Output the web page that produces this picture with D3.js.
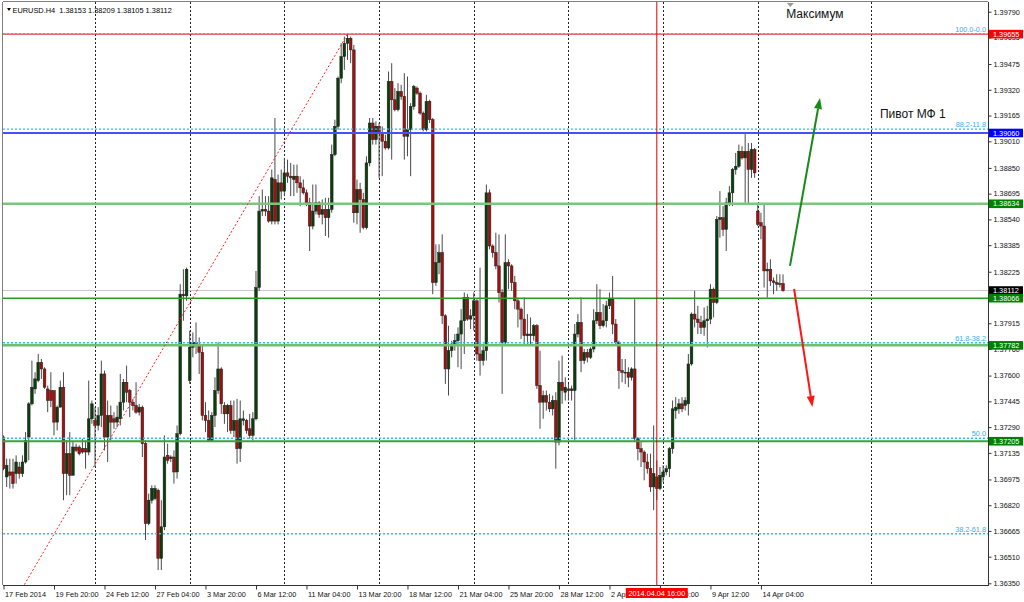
<!DOCTYPE html>
<html><head><meta charset="utf-8">
<script src="https://cdn.jsdelivr.net/npm/d3@7"></script>
<style>body{margin:0;background:#fff}svg{display:block}text{font-family:"Liberation Sans",Arial,sans-serif}</style>
</head><body><svg id="c" width="1024" height="602"></svg>
<script>
// ---------- data ----------
const symbol = "EURUSD.H4";
const firstBar = 1; // bar index of first candle (17 Feb 2014 04:00)
const open = [
1.3723,1.3699,1.3702,1.3702,1.3701,1.3705,1.3701,1.3708,1.3723,1.3743,
1.3752,1.3757,1.3768,1.3764,1.3752,1.3751,1.3751,1.3732,1.3741,1.3753,
1.3701,1.3713,1.3700,1.3717,1.3717,1.3716,1.3716,1.3714,1.3734,1.3733,
1.3730,1.3736,1.3761,1.3723,1.3736,1.3734,1.3732,1.3734,1.3744,1.3756,
1.3751,1.3744,1.3742,1.3738,1.3741,1.3719,1.3671,1.3685,1.3686,1.3691,
1.3650,1.3669,1.3712,1.3710,1.3711,1.3702,1.3725,1.3809,1.3808,1.3757,
1.3777,1.3780,1.3778,1.3774,1.3736,1.3733,1.3721,1.3736,1.3751,1.3764,
1.3742,1.3737,1.3742,1.3727,1.3733,1.3716,1.3733,1.3733,1.3728,1.3724,
1.3734,1.3813,1.3859,1.3860,1.3859,1.3853,1.3878,1.3853,1.3876,1.3871,
1.3882,1.3880,1.3878,1.3880,1.3876,1.3873,1.3870,1.3864,1.3850,1.3859,
1.3864,1.3857,1.3860,1.3855,1.3860,1.3893,1.3910,1.3939,1.3952,1.3960,
1.3963,1.3956,1.3858,1.3872,1.3866,1.3849,1.3888,1.3912,1.3902,1.3910,
1.3906,1.3901,1.3897,1.3937,1.3926,1.3920,1.3931,1.3928,1.3904,1.3908,
1.3922,1.3933,1.3930,1.3918,1.3908,1.3925,1.3914,1.3816,1.3828,1.3834,
1.3796,1.3764,1.3775,1.3778,1.3781,1.3785,1.3793,1.3807,1.3794,1.3796,
1.3805,1.3773,1.3769,1.3775,1.3870,1.3838,1.3834,1.3826,1.3810,1.3780,
1.3828,1.3826,1.3816,1.3805,1.3800,1.3794,1.3784,1.3785,1.3784,1.3790,
1.3754,1.3744,1.3748,1.3744,1.3740,1.3745,1.3720,1.3756,1.3750,1.3752,
1.3751,1.3751,1.3785,1.3792,1.3769,1.3774,1.3771,1.3776,1.3793,1.3798,
1.3790,1.3793,1.3802,1.3806,1.3791,1.3780,1.3763,1.3762,1.3762,1.3759,
1.3764,1.3722,1.3716,1.3714,1.3708,1.3704,1.3693,1.3699,1.3692,1.3699,
1.3702,1.3704,1.3716,1.3739,1.3740,1.3743,1.3742,1.3743,1.3767,1.3797,
1.3794,1.3792,1.3789,1.3793,1.3794,1.3812,1.3804,1.3854,1.3855,1.3848,
1.3864,1.3870,1.3884,1.3886,1.3895,1.3891,1.3895,1.3884,1.3896,1.3859,
1.3852,1.3850,1.3823,1.3824,1.3817,1.3816,1.3815,1.38153];
const high = [
1.3724,1.3710,1.3710,1.3710,1.3712,1.3708,1.3712,1.3726,1.3744,1.3769,
1.3762,1.3773,1.3770,1.3765,1.3754,1.3762,1.3751,1.3742,1.3757,1.3762,
1.3721,1.3726,1.3720,1.3719,1.3718,1.3722,1.3721,1.3757,1.3745,1.3741,
1.3741,1.3769,1.3763,1.3745,1.3742,1.3738,1.3742,1.3761,1.3758,1.3766,
1.3752,1.3746,1.3756,1.3743,1.3742,1.3721,1.3689,1.3694,1.3694,1.3692,
1.3685,1.3724,1.3719,1.3712,1.3715,1.3730,1.3815,1.3824,1.3825,1.3787,
1.3786,1.3792,1.3783,1.3778,1.3744,1.3739,1.3738,1.3759,1.3780,1.3765,
1.3744,1.3743,1.3745,1.3745,1.3746,1.3745,1.3739,1.3734,1.3737,1.3738,
1.3823,1.3868,1.3872,1.3868,1.3868,1.3884,1.3915,1.3881,1.3884,1.3891,
1.3890,1.3888,1.3887,1.3887,1.3880,1.3878,1.3872,1.3867,1.3875,1.3875,
1.3865,1.3866,1.3867,1.3867,1.3899,1.3914,1.3940,1.3960,1.3964,1.39655,
1.3964,1.3959,1.3878,1.3876,1.3870,1.3892,1.3915,1.3915,1.3913,1.3912,
1.3910,1.3905,1.3943,1.3948,1.3933,1.3936,1.3935,1.3942,1.3940,1.3924,
1.3935,1.3934,1.3931,1.3919,1.3929,1.3926,1.3915,1.3839,1.3839,1.3845,
1.3797,1.3790,1.3781,1.3785,1.3789,1.3800,1.3810,1.3809,1.3800,1.3810,
1.3806,1.3825,1.3778,1.3875,1.3872,1.3839,1.3846,1.3845,1.3812,1.3845,
1.3830,1.3827,1.3820,1.3807,1.3801,1.3807,1.3797,1.3795,1.3791,1.3791,
1.3775,1.3751,1.3751,1.3749,1.3748,1.3750,1.3769,1.3772,1.3759,1.3755,
1.3754,1.3791,1.3797,1.3807,1.3776,1.3776,1.3777,1.3800,1.3815,1.3812,
1.3803,1.3805,1.3810,1.3820,1.3794,1.3781,1.3770,1.3770,1.3765,1.3765,
1.3806,1.3723,1.3720,1.3715,1.3713,1.3713,1.3730,1.3709,1.3705,1.3706,
1.3706,1.3717,1.3745,1.3747,1.3746,1.3747,1.3747,1.3773,1.3798,1.3811,
1.3802,1.3796,1.3801,1.3802,1.3815,1.3813,1.3856,1.3871,1.3862,1.3867,
1.3874,1.3885,1.3894,1.3899,1.3898,1.3906,1.3900,1.3900,1.3897,1.3863,
1.3858,1.3863,1.3828,1.3830,1.3819,1.3821,1.38210,1.38209];
const low = [
1.3703,1.3693,1.3692,1.3692,1.3695,1.3698,1.3699,1.3707,1.3709,1.3742,
1.3749,1.3756,1.3758,1.3752,1.3738,1.3741,1.3724,1.3727,1.3741,1.3685,
1.3688,1.3688,1.3700,1.3714,1.3712,1.3713,1.3704,1.3712,1.3731,1.3705,
1.3727,1.3729,1.3715,1.3708,1.3721,1.3728,1.3729,1.3730,1.3739,1.3744,
1.3735,1.3739,1.3737,1.3736,1.3711,1.3661,1.3670,1.3683,1.3685,1.3643,
1.3643,1.3667,1.3707,1.3708,1.3695,1.3698,1.3724,1.3793,1.3805,1.3755,
1.3771,1.3773,1.3761,1.3733,1.3726,1.3720,1.3720,1.3729,1.3749,1.3737,
1.3731,1.3726,1.3725,1.3723,1.3707,1.3708,1.3730,1.3725,1.3722,1.3721,
1.3733,1.3811,1.3856,1.3856,1.3852,1.3851,1.3851,1.3851,1.3866,1.3868,
1.3876,1.3868,1.3868,1.3870,1.3862,1.3869,1.3862,1.3835,1.3848,1.3857,
1.3855,1.3851,1.3844,1.3843,1.3858,1.3892,1.3908,1.3936,1.3944,1.3950,
1.3948,1.3852,1.3851,1.3846,1.3848,1.3848,1.3886,1.3899,1.3899,1.3879,
1.3880,1.3896,1.3896,1.3890,1.3919,1.3919,1.3926,1.3890,1.3892,1.3880,
1.3920,1.3929,1.3917,1.3907,1.3907,1.3912,1.3809,1.3814,1.3821,1.3791,
1.3755,1.3748,1.3771,1.3775,1.3765,1.3764,1.3773,1.3793,1.3788,1.3787,
1.3769,1.3760,1.3766,1.3769,1.3836,1.3831,1.3824,1.3804,1.3749,1.3778,
1.3812,1.3811,1.3800,1.3789,1.3782,1.3778,1.3779,1.3778,1.3781,1.3752,
1.3728,1.3734,1.3739,1.3738,1.3736,1.3704,1.3718,1.3743,1.3745,1.3745,
1.3745,1.3721,1.3783,1.3762,1.3767,1.3768,1.3770,1.3774,1.3791,1.3788,
1.3789,1.3789,1.3800,1.3785,1.3779,1.3752,1.3756,1.3755,1.3753,1.3757,
1.3720,1.3709,1.3705,1.3697,1.3701,1.3690,1.3679,1.3685,1.3691,1.3696,
1.3700,1.3699,1.3713,1.3734,1.3737,1.3738,1.3739,1.3736,1.3766,1.3789,
1.3785,1.3785,1.3784,1.3777,1.3791,1.3795,1.3803,1.3843,1.3844,1.3835,
1.3862,1.3862,1.3881,1.3885,1.3890,1.3864,1.3863,1.3879,1.3879,1.3850,
1.3842,1.3813,1.3807,1.3814,1.3809,1.3811,1.38130,1.38105];
const close = [
1.3704,1.3706,1.3700,1.3695,1.3708,1.3701,1.3708,1.3721,1.3743,1.3753,
1.3758,1.3768,1.3764,1.3753,1.3745,1.3745,1.3732,1.3741,1.3753,1.3701,
1.3713,1.3700,1.3717,1.3715,1.3713,1.3714,1.3714,1.3734,1.3743,1.3730,
1.3736,1.3761,1.3723,1.3736,1.3732,1.3732,1.3735,1.3744,1.3756,1.3750,
1.3744,1.3742,1.3738,1.3741,1.3719,1.3671,1.3685,1.3692,1.3692,1.3650,
1.3669,1.3711,1.3709,1.3711,1.3702,1.3725,1.3809,1.3808,1.3824,1.3777,
1.3780,1.3778,1.3774,1.3736,1.3733,1.3721,1.3736,1.3751,1.3764,1.3743,
1.3737,1.3742,1.3727,1.3733,1.3716,1.3734,1.3734,1.3727,1.3724,1.3734,
1.3813,1.3859,1.3860,1.3859,1.3853,1.3879,1.3853,1.3876,1.3871,1.3882,
1.3880,1.3879,1.3880,1.3876,1.3873,1.3870,1.3864,1.3850,1.3859,1.3864,
1.3857,1.3860,1.3855,1.3860,1.3893,1.3910,1.3939,1.3952,1.3960,1.3963,
1.3956,1.3858,1.3872,1.3866,1.3849,1.3888,1.3912,1.3902,1.3910,1.3906,
1.3901,1.3897,1.3937,1.3926,1.3920,1.3931,1.3928,1.3904,1.3908,1.3922,
1.3934,1.3930,1.3918,1.3908,1.3925,1.3914,1.3816,1.3828,1.3834,1.3796,
1.3764,1.3775,1.3779,1.3781,1.3785,1.3793,1.3807,1.3794,1.3796,1.3805,
1.3773,1.3769,1.3775,1.3870,1.3838,1.3834,1.3826,1.3810,1.3780,1.3828,
1.3826,1.3816,1.3805,1.3800,1.3794,1.3784,1.3785,1.3784,1.3790,1.3754,
1.3744,1.3748,1.3744,1.3740,1.3745,1.3720,1.3756,1.3751,1.3753,1.3751,
1.3752,1.3785,1.3792,1.3769,1.3774,1.3771,1.3776,1.3793,1.3798,1.3790,
1.3793,1.3802,1.3806,1.3791,1.3780,1.3763,1.3762,1.3762,1.3759,1.3764,
1.3722,1.3716,1.3714,1.3708,1.3704,1.3693,1.3701,1.3692,1.3700,1.3702,
1.3704,1.3716,1.3740,1.3741,1.3743,1.3740,1.3745,1.3767,1.3797,1.3794,
1.3792,1.3789,1.3793,1.3794,1.3812,1.3804,1.3854,1.3855,1.3848,1.3864,
1.3870,1.3884,1.3886,1.3895,1.3891,1.3895,1.3884,1.3896,1.3882,1.3851,
1.3850,1.3823,1.3824,1.3817,1.3816,1.3815,1.38153,1.38112];

const timeTickBars = [1,17,33,49,65,81,97,113,129,145,161,177,193,209,225,241];
const timeTickLabels = ["17 Feb 2014","19 Feb 20:00","24 Feb 12:00","27 Feb 04:00","3 Mar 20:00","6 Mar 12:00",
  "11 Mar 04:00","13 Mar 20:00","18 Mar 12:00","21 Mar 04:00","25 Mar 20:00","28 Mar 12:00",
  "2 Apr 04:00","4 Apr 20:00","9 Apr 12:00","14 Apr 04:00"];
const gridBars = [30,60,90,120,150,180,210,240,276];
const priceTicks = [1.39790,1.39635,1.39475,1.39320,1.39165,1.39010,1.38850,1.38695,1.38540,1.38385,1.38225,
  1.37915,1.37760,1.37600,1.37445,1.37290,1.37135,1.36975,1.36820,1.36665,1.36510,1.36350];

// horizontal levels
const levelPrices = [1.39655,1.39060,1.38634,1.38066,1.37782,1.37205];
const bidPrice = 1.38112;
// fibonacci
const fibLowPrice = 1.34785, fibHighPrice = 1.39655;
const fibLowBar = -40.5, fibHighBar = 110;
const fibRatios = [1.0,0.882,0.618,0.5,0.382];
const fibLabels = ["100.0-0.0","88.2-11.8","61.8-38.2","50.0","38.2-61.8"];
// vertical line
const vLineBar = 208, vLineLabel = "2014.04.04 16:00";
// arrows [bar, price] start -> end
const upArrow = [[250.2,1.38260],[259.7,1.39271]];
const downArrow = [[251.5,1.38121],[257.3,1.37411]];
// text labels
const textLabels = [{t:"Максимум",bar:249,price:1.39752},{t:"Пивот МФ 1",bar:278.7,price:1.39148}];

// ---------- styles ----------
const levelColors = ["#ff0000","#4d4dff","#7dc47d","#2a9a2a","#70be70","#3aa33a"];
const levelWidths = [1,2,2.5,1.5,2.5,1.8];
const boxPrices = [1.39655,1.39060,1.38634,1.38112,1.38066,1.37782,1.37205];
const boxColors = ["#ff0000","#0000ff","#008000","#000000","#008000","#008000","#008000"];

// ---------- scales ----------
const svg = d3.select("#c");
const L = 3, T = 2, R = 988, B = 585;
const x = d3.scaleLinear().domain([0,312]).range([0.35, 0.35+3.156*312]);
const y = d3.scaleLinear().domain([1.36350,1.39790]).range([583.3,11.7]);

const bars = open.map((o,k)=>({i:firstBar+k,o,h:high[k],l:low[k],c:close[k]}));

svg.append("rect").attr("width",1024).attr("height",602).attr("fill","#fff");
svg.append("clipPath").attr("id","plot").append("rect").attr("x",L).attr("y",T).attr("width",R-L).attr("height",B-T);
const g = svg.append("g").attr("clip-path","url(#plot)");

// grid
g.selectAll("line.grid").data(gridBars).join("line")
  .attr("x1",d=>Math.round(x(d))+0.5).attr("x2",d=>Math.round(x(d))+0.5)
  .attr("y1",T).attr("y2",B).attr("stroke","#222").attr("stroke-width",1).attr("stroke-dasharray","2,2");

// bid line
g.append("line").attr("x1",L).attr("x2",R).attr("y1",y(bidPrice)).attr("y2",y(bidPrice))
  .attr("stroke","#c8c8c8").attr("stroke-width",1);

// candles
g.selectAll("line.wick").data(bars).join("line").attr("class","wick")
  .attr("x1",d=>x(d.i)).attr("x2",d=>x(d.i))
  .attr("y1",d=>y(d.h)).attr("y2",d=>y(d.l))
  .attr("stroke","#4a4a4a").attr("stroke-width",1);
g.selectAll("rect.body").data(bars).join("rect").attr("class","body")
  .attr("x",d=>x(d.i)-1.35).attr("width",2.7)
  .attr("y",d=>y(Math.max(d.o,d.c)))
  .attr("height",d=>Math.max(0.8,Math.abs(y(d.o)-y(d.c))))
  .attr("fill",d=>d.c>=d.o?"#0c3d0c":"#a80e0e")
  .attr("stroke","#1e1e1e").attr("stroke-width",0.5);

// levels
g.selectAll("line.level").data(levelPrices).join("line")
  .attr("x1",L).attr("x2",R).attr("y1",d=>y(d)).attr("y2",d=>y(d))
  .attr("stroke",(d,k)=>levelColors[k]).attr("stroke-width",(d,k)=>levelWidths[k]);

// fib levels
const fibPrice = r => fibLowPrice + r*(fibHighPrice-fibLowPrice);
g.selectAll("line.fib").data(fibRatios).join("line")
  .attr("x1",L).attr("x2",R).attr("y1",d=>y(fibPrice(d))-0.5).attr("y2",d=>y(fibPrice(d))-0.5)
  .attr("stroke","#2cc0f5").attr("stroke-width",1.3).attr("stroke-dasharray","2,2");
g.selectAll("text.fib").data(fibRatios).join("text")
  .attr("x",R-2).attr("y",d=>y(fibPrice(d))-2.5).attr("text-anchor","end")
  .attr("font-size",7.3).attr("fill","#3aaaf5").text((d,k)=>fibLabels[k]);
g.append("line").attr("x1",x(fibLowBar)).attr("y1",y(fibLowPrice)).attr("x2",x(fibHighBar)).attr("y2",y(fibHighPrice))
  .attr("stroke","#ff2020").attr("stroke-width",1).attr("stroke-dasharray","2,2");

// vertical line
g.append("line").attr("x1",x(vLineBar)).attr("x2",x(vLineBar)).attr("y1",T).attr("y2",B)
  .attr("stroke","#e00000").attr("stroke-width",1);

// arrows
function arrow(pts,color){
  const [a,b] = pts.map(p=>[x(p[0]),y(p[1])]);
  const ang = Math.atan2(b[1]-a[1],b[0]-a[0]);
  const len = 11, wd = 4;
  const bx = b[0]-len*Math.cos(ang), by = b[1]-len*Math.sin(ang);
  g.append("line").attr("x1",a[0]).attr("y1",a[1]).attr("x2",bx).attr("y2",by)
    .attr("stroke",color).attr("stroke-width",2);
  const px = -Math.sin(ang)*wd, py = Math.cos(ang)*wd;
  g.append("path").attr("d",`M${b[0]},${b[1]}L${bx+px},${by+py}L${bx-px},${by-py}Z`).attr("fill",color);
}
arrow(upArrow,"#178a17");
arrow(downArrow,"#ff1414");

// text labels
g.selectAll("text.lbl").data(textLabels).join("text")
  .attr("x",d=>x(d.bar)).attr("y",d=>y(d.price)).attr("font-size",12).attr("fill","#111").text(d=>d.t);
g.append("path").attr("d",`M${x(249.2)},${T+1}L${x(249.2)+7},${T+1}L${x(249.2)+3.5},${T+5}Z`).attr("fill","#999");

// frame
svg.append("line").attr("x1",L-0.5).attr("x2",L-0.5).attr("y1",T).attr("y2",B).attr("stroke","#808080");
svg.append("line").attr("x1",L).attr("x2",R).attr("y1",T-0.5).attr("y2",T-0.5).attr("stroke","#808080");
svg.append("line").attr("x1",R+0.5).attr("x2",R+0.5).attr("y1",T).attr("y2",B+1).attr("stroke","#333");
svg.append("line").attr("x1",L).attr("x2",R+1).attr("y1",B+0.5).attr("y2",B+0.5).attr("stroke","#333");

// right price axis
const ya = svg.append("g").attr("transform",`translate(${R+0.5},0)`)
  .call(d3.axisRight(y).tickValues(priceTicks).tickFormat(d3.format(".5f")).tickSize(3).tickPadding(2));
ya.select(".domain").remove();
ya.selectAll("line").attr("stroke","#333");
ya.selectAll("text").attr("font-size",7.3).attr("fill","#111").attr("font-family","Liberation Sans, Arial, sans-serif");

// bottom time axis
const xa = svg.append("g").attr("transform",`translate(0,${B+0.5})`)
  .call(d3.axisBottom(x).tickValues(timeTickBars).tickFormat((d,k)=>timeTickLabels[k]).tickSize(4));
xa.select(".domain").remove();
xa.selectAll("line").attr("stroke","#333");
xa.selectAll("text").attr("font-size",7.3).attr("fill","#111").attr("text-anchor","start")
  .attr("dy",null).attr("y",11.5).attr("dx",1).attr("font-family","Liberation Sans, Arial, sans-serif");
xa.selectAll(".tick").filter(d=>d===firstBar).attr("transform",`translate(${L+1},0)`);

// price boxes
const pb = svg.append("g");
boxPrices.forEach((p,k)=>{
  pb.append("rect").attr("x",R+1).attr("y",y(p)-4.3).attr("width",34).attr("height",8.6).attr("fill",boxColors[k]);
  pb.append("text").attr("x",R+5).attr("y",y(p)+2.7).attr("font-size",7.3).attr("fill","#fff").text(d3.format(".5f")(p));
});

// vertical line time box
svg.append("rect").attr("x",x(vLineBar)-31).attr("y",B+3).attr("width",62).attr("height",10).attr("fill","#ff0000");
svg.append("text").attr("x",x(vLineBar)).attr("y",B+11).attr("text-anchor","middle").attr("font-size",7.3)
  .attr("fill","#fff").text(vLineLabel);

// title
const last = bars[bars.length-1];
const f5 = d3.format(".5f");
svg.append("path").attr("d","M7,8L11,8L9,11Z").attr("fill","#000");
svg.append("text").attr("x",12.5).attr("y",12.5).attr("font-size",7.4).attr("fill","#000")
  .style("white-space","pre").text(`${symbol}  ${f5(last.o)} ${f5(last.h)} ${f5(last.l)} ${f5(last.c)}`);
</script></body></html>
